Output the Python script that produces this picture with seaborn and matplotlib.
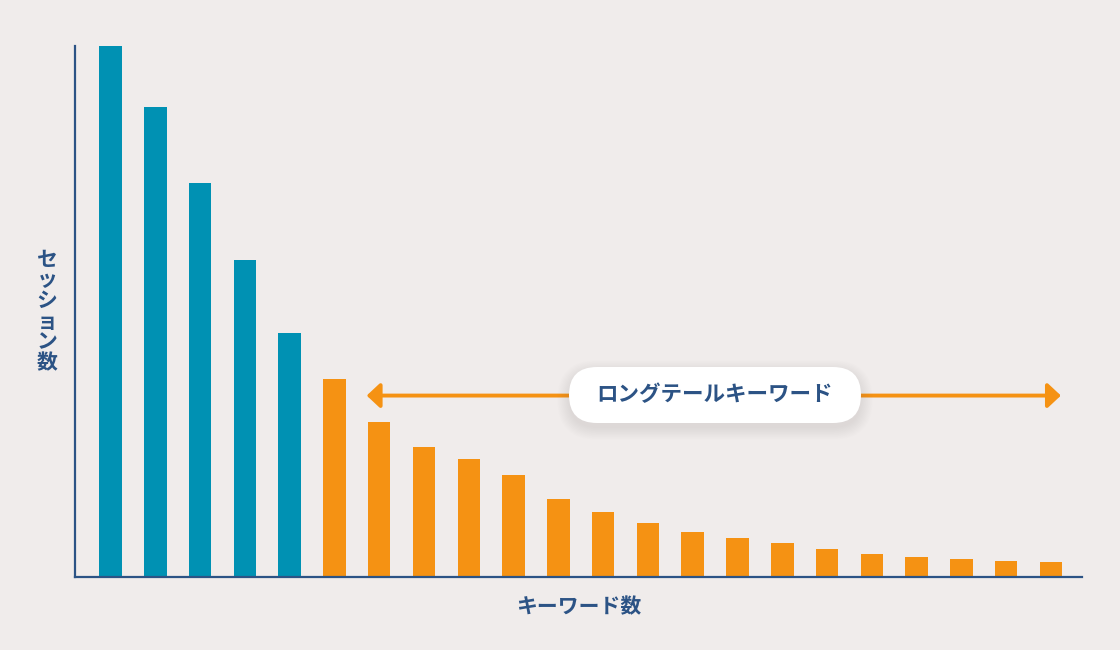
import numpy as np
import pandas as pd
import matplotlib
matplotlib.use("Agg")
import matplotlib.pyplot as plt
from matplotlib.patches import FancyBboxPatch, FancyArrowPatch
import seaborn as sns

# ----------------------------------------------
# Data (sessions per keyword, relative scale)
# ----------------------------------------------
keywords = [f"kw{i + 1:02d}" for i in range(22)]
sessions = [100, 88.4, 74.1, 59.5, 45.8, 37.3, 29.1, 24.5, 22.2, 19.1, 14.6,
            12.3, 10.2, 8.5, 7.3, 6.3, 5.2, 4.4, 3.7, 3.3, 3.1, 2.8]
groups = ["head"] * 5 + ["tail"] * 17

XLABEL = "キーワード数"
YLABEL = "セッション数"
TAIL_LABEL = "ロングテールキーワード"

# ----------------------------------------------
# Style
# ----------------------------------------------
BG = "#f0eceb"
NAVY = "#2c5385"
PALETTE = {"head": "#0091b3", "tail": "#f59213"}

sns.set_theme(style="white")
plt.rcParams.update({
    "figure.facecolor": BG,
    "axes.facecolor": BG,
    "savefig.facecolor": BG,
})
plt.rcParams["font.family"] = ["Noto Sans CJK JP", "DejaVu Sans"]

df = pd.DataFrame({"keyword": keywords, "sessions": sessions, "group": groups})

fig = plt.figure(figsize=(11.2, 6.5), dpi=100)
ax = fig.add_axes([75 / 1120, 73 / 650, 1006.7 / 1120, 531 / 650])

sns.barplot(data=df, x="keyword", y="sessions", hue="group",
            palette=PALETTE, dodge=False, width=0.502, legend=False,
            saturation=1, linewidth=0, ax=ax)

ax.set_xlim(-0.793, 21.685)
ax.set_ylim(0, 99.8)
ax.set_xticks([])
ax.set_yticks([])
ax.set_xlabel(XLABEL, fontsize=15, fontweight="bold", color=NAVY, labelpad=14)
ax.set_ylabel("")

for side in ["top", "right"]:
    ax.spines[side].set_visible(False)
for side in ["left", "bottom"]:
    ax.spines[side].set_color(NAVY)
    ax.spines[side].set_linewidth(1.6)

# vertical y label, one character per line
fig.text(47 / 1120, 1 - 311 / 650, "\n".join(YLABEL), ha="center", va="center",
         fontsize=15, fontweight="bold", color=NAVY, linespacing=0.98)

# ----------------------------------------------
# Long tail arrow + label pill
# ----------------------------------------------
arrow_y = 34.1
arrow = FancyArrowPatch((5.72, arrow_y), (21.22, arrow_y),
                        arrowstyle="<|-|>,head_length=0.8,head_width=0.75",
                        mutation_scale=10, color=PALETTE["tail"],
                        lw=2.8, shrinkA=0, shrinkB=0, zorder=4)
ax.add_patch(arrow)

# soft shadow behind the pill
px, py, pw, ph = 5.69, 2.27, 2.92, 0.56
for i in range(10):
    g = i * 0.013
    fig.patches.append(FancyBboxPatch(
        (px - g, py - 0.05 - g), pw + 2 * g, ph + 2 * g,
        boxstyle=f"round,pad=0,rounding_size={ph / 2 + g}",
        transform=fig.dpi_scale_trans, facecolor="#8a7f7c", edgecolor="none",
        alpha=0.012, zorder=5))
fig.patches.append(FancyBboxPatch(
    (px, py), pw, ph, boxstyle=f"round,pad=0,rounding_size={ph / 2}",
    transform=fig.dpi_scale_trans, facecolor="white", edgecolor="none",
    zorder=6))
fig.text((px + pw / 2) / 11.2, (py + ph / 2) / 6.5, TAIL_LABEL,
         ha="center", va="center", fontsize=15.5, fontweight="bold",
         color=NAVY, zorder=7)

fig.savefig("out.png", dpi=100)
plt.close(fig)
